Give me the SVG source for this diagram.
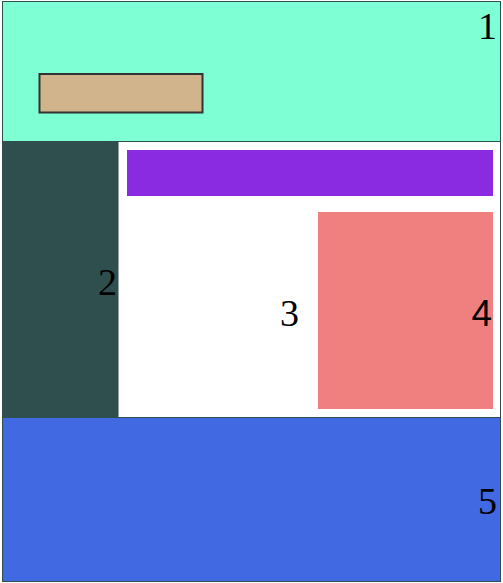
<svg xmlns="http://www.w3.org/2000/svg" width="503" height="583" viewBox="0 0 503 583">
<style>
.lbl{font-family:"Liberation Serif","Times New Roman",serif;font-size:38px;fill:#000;text-anchor:end}
.sans{font-family:"Liberation Sans",Arial,sans-serif;font-size:37px}
</style>
<rect x="0" y="0" width="503" height="583" fill="#fff"/>
<g id="header">
<rect x="2.5" y="1.5" width="498" height="140" fill="#7fffd4" stroke="#2f4f4f" stroke-width="1"/>
<text class="lbl" x="497" y="39">1</text>
<rect x="39.5" y="74" width="163" height="38.5" fill="#d2b48c" stroke="#333" stroke-width="2"/>
</g>
<g id="sidebar">
<rect x="3" y="142" width="115.5" height="275.5" fill="#2f4f4f"/>
<text class="lbl" x="117" y="295">2</text>
</g>
<g id="main">
<rect x="127" y="150" width="366" height="46" fill="#8a2be2"/>
<text class="lbl" x="299" y="326">3</text>
</g>
<g id="aside">
<rect x="318" y="212" width="175" height="197" fill="#f08080"/>
<text class="lbl sans" x="492" y="326">4</text>
</g>
<g id="footer">
<rect x="2.5" y="417.5" width="498" height="164" fill="#4169e1" stroke="#2f4f4f" stroke-width="1"/>
<text class="lbl" x="497" y="514">5</text>
</g>
<line x1="2.5" y1="141" x2="2.5" y2="418" stroke="#2f4f4f"/>
<line x1="500.5" y1="141" x2="500.5" y2="418" stroke="#2f4f4f"/>
<g id="connectors"></g>
</svg>
